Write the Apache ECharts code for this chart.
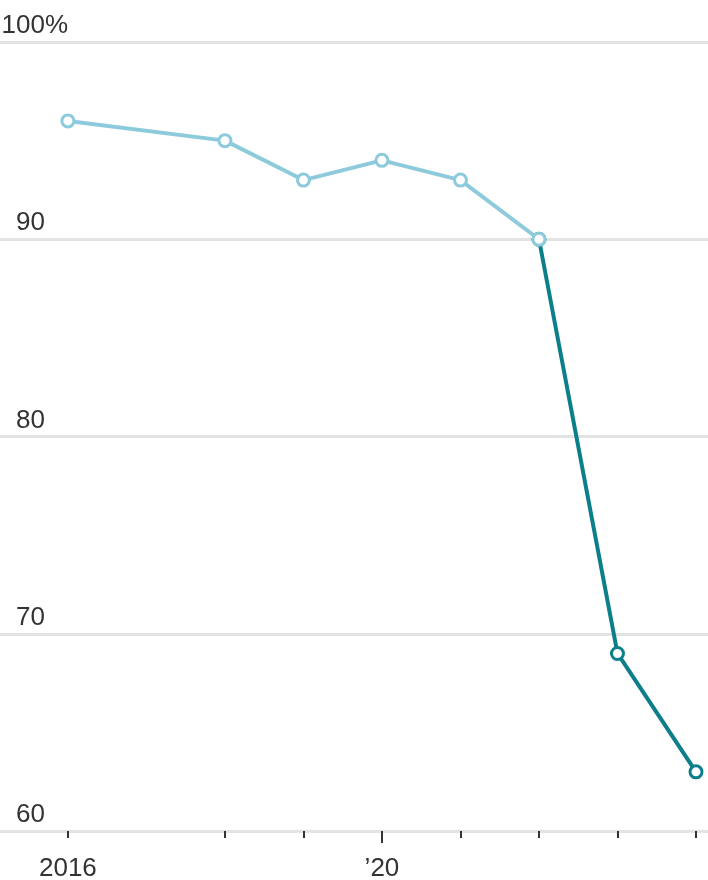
<!DOCTYPE html>
<html>
<head>
<meta charset="utf-8">
<script src="https://cdn.jsdelivr.net/npm/echarts@6/dist/echarts.min.js"></script>
<style>
html,body{margin:0;padding:0;background:#fff;}
#chart{width:708px;height:880px;}
</style>
</head>
<body>
<div id="chart"></div>
<script>
var years = [2016, 2018, 2019, 2020, 2021, 2022, 2023, 2024];
var values = [96, 95, 93, 94, 93, 90, 69, 63];
var splitIndex = 5; // 2022: colour changes after this point
var tickYears = [2016, 2018, 2019, 2020, 2021, 2022, 2023, 2024];
var decadeTickYears = [2020];
var labelYears = [2016, 2020];
var yTicks = [60, 70, 80, 90, 100];

var lightData = [], darkData = [];
for (var i = 0; i < years.length; i++) {
  if (i <= splitIndex) lightData.push([years[i], values[i]]);
  if (i >= splitIndex) darkData.push([years[i], values[i]]);
}

var FONT = '"Liberation Sans", Arial, sans-serif';
var FS = 26;
var chart = echarts.init(document.getElementById('chart'), null, {renderer: 'canvas'});

function xAx(ticks, len, label) {
  return {
    type: 'value', min: 2015.135, max: 2024.153, position: 'bottom',
    splitLine: {show: false}, axisLine: {show: false},
    axisTick: {show: true, customValues: ticks, length: len, lineStyle: {color: '#333', width: 2}},
    axisLabel: label || {show: false}
  };
}

chart.setOption({
  animation: false,
  backgroundColor: '#fff',
  grid: {left: 0, right: 0, top: 42, bottom: 49, containLabel: false, outerBoundsMode: 'none'},
  xAxis: [
    xAx(tickYears, 7, {
      show: true, customValues: labelYears, margin: 25,
      fontFamily: FONT, fontSize: FS, color: '#333',
      formatter: function (v) { return v === 2016 ? '2016' : '\u2019' + String(v).slice(2); }
    }),
    xAx(decadeTickYears, 12)
  ],
  yAxis: {
    type: 'value', min: 60, max: 100, interval: 10,
    axisLine: {show: false}, axisTick: {show: false},
    splitLine: {show: true, lineStyle: {color: '#e3e3e3', width: 3}},
    axisLabel: {
      inside: true, margin: 68, align: 'right', verticalAlign: 'bottom',
      padding: [0, 0, 3, 0],
      formatter: function (v) { return '{n|' + v + '}{p|' + (v === 100 ? '%' : '') + '}'; },
      rich: {
        n: {fontFamily: FONT, fontSize: FS, color: '#333'},
        p: {fontFamily: FONT, fontSize: FS, color: '#333', width: 23, align: 'left'}
      }
    }
  },
  series: [
    {
      type: 'line', data: darkData, xAxisIndex: 0, z: 2,
      lineStyle: {color: '#0c7f8b', width: 4},
      symbol: 'circle', symbolSize: 12, showSymbol: true,
      itemStyle: {color: '#fff', borderColor: '#0c7f8b', borderWidth: 3}
    },
    {
      type: 'line', data: lightData, xAxisIndex: 0, z: 3,
      lineStyle: {color: '#8dcbdc', width: 4},
      symbol: 'circle', symbolSize: 12, showSymbol: true,
      itemStyle: {color: '#fff', borderColor: '#8dcbdc', borderWidth: 3}
    }
  ]
});
</script>
</body>
</html>
